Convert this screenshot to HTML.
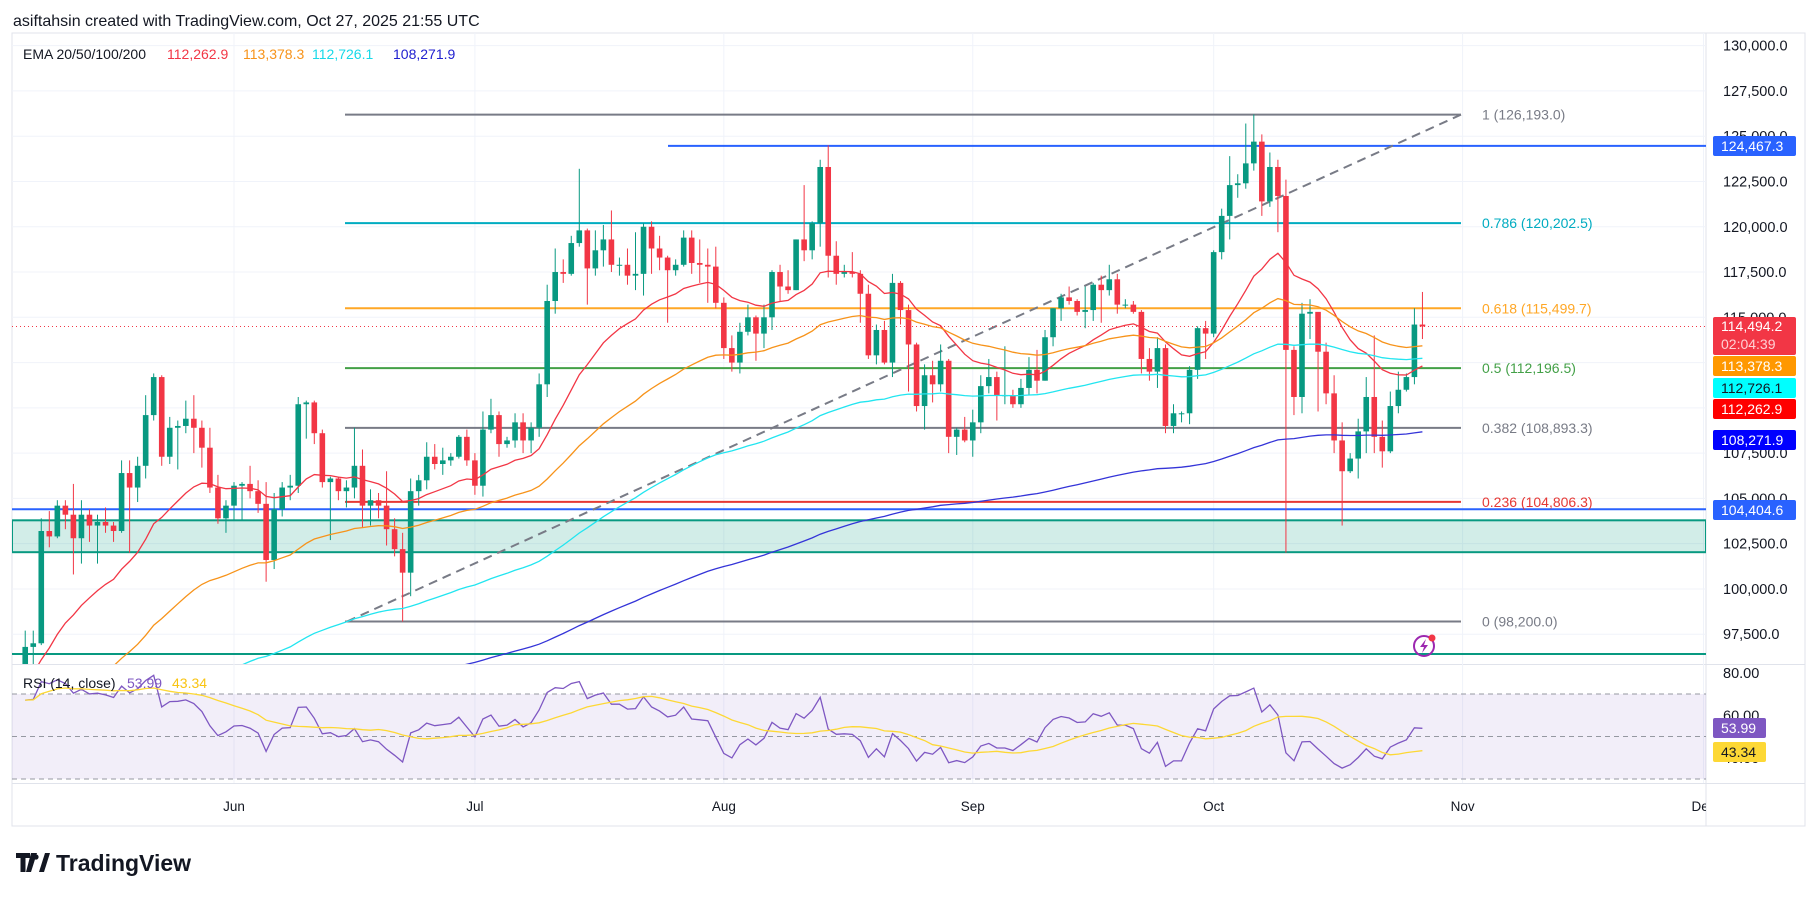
<!DOCTYPE html>
<html><head><meta charset="utf-8">
<style>
body{margin:0;background:#fff;width:1815px;height:901px;overflow:hidden;font-family:"Liberation Sans",sans-serif;}
svg text{font-family:"Liberation Sans",sans-serif;}
</style></head>
<body>
<svg id="c" width="1815" height="901" xmlns="http://www.w3.org/2000/svg">
<defs>
<clipPath id="mainClip"><rect x="12" y="33" width="1694" height="631"/></clipPath>
<clipPath id="rsiClip"><rect x="12" y="665" width="1694" height="118"/></clipPath>
<clipPath id="timeClip"><rect x="12" y="784" width="1694" height="42"/></clipPath>
</defs>
<text x="13" y="26" font-size="16" fill="#131722">asiftahsin created with TradingView.com, Oct 27, 2025 21:55 UTC</text>
<rect x="12" y="33" width="1793" height="793" fill="none" stroke="#e0e3eb"/>
<line x1="1706" y1="33" x2="1706" y2="826" stroke="#e0e3eb"/>
<line x1="12" y1="664.5" x2="1805" y2="664.5" stroke="#e0e3eb"/>
<line x1="12" y1="783.5" x2="1805" y2="783.5" stroke="#e0e3eb"/>
<g id="grid"></g>
<g id="draw" clip-path="url(#mainClip)"></g>
<g id="candles" clip-path="url(#mainClip)"></g>
<g id="emas" clip-path="url(#mainClip)"></g>
<g id="rsi" clip-path="url(#rsiClip)"></g>
<g id="axis"></g>
<g id="time" clip-path="url(#timeClip)"></g>
<g id="legend">
<text x="23" y="59" font-size="14" fill="#131722">EMA 20/50/100/200</text>
<text x="167" y="59" font-size="14" fill="#f23645">112,262.9</text>
<text x="243" y="59" font-size="14" fill="#f7931a">113,378.3</text>
<text x="312" y="59" font-size="14" fill="#18d9e8">112,726.1</text>
<text x="393" y="59" font-size="14" fill="#2020d0">108,271.9</text>
<text x="23" y="688" font-size="14" fill="#131722">RSI (14, close)</text>
<text x="127" y="688" font-size="14" fill="#7e57c2">53.99</text>
<text x="172" y="688" font-size="14" fill="#f9c412">43.34</text>
</g>
<g>
<path d="M16 853h14v5h-4.5v14h-5v-14H16z M31 853h6l-6 19h-5z" fill="#131722"/>
<circle cx="36" cy="857" r="2.6" fill="#131722"/>
<path d="M39 872l6-19h5l-6 19z" fill="#131722"/>
<text x="56" y="871" font-size="23" font-weight="bold" fill="#131722">TradingView</text>
</g>
<g>
<circle cx="1424" cy="646" r="10" fill="none" stroke="#9c27b0" stroke-width="2"/>
<path d="M1426 639l-6 8h4l-2 6 6-8h-4z" fill="#9c27b0"/>
<circle cx="1432" cy="638" r="3.5" fill="#f23645"/>
</g>
</svg>
<script>
// ---- data ----
const startDayOffset = -26; // first candle = May 6 (Jun 1 = day 0)
const firstOpen = 94700;
const closes = [96.8,97.0,103.2,102.9,104.6,104.1,102.8,104.1,103.5,103.7,103.5,103.2,106.4,105.6,106.8,109.6,111.7,107.3,108.9,109.0,109.4,108.9,107.8,105.6,103.9,104.6,
105.7,105.8,105.4,104.7,101.6,104.4,105.6,105.7,110.2,110.3,108.6,105.9,106.1,105.4,105.6,106.8,104.6,104.9,104.6,103.3,102.2,100.9,105.4,106.0,107.3,106.9,107.1,107.3,108.4,107.1,
105.7,108.8,109.6,108.0,108.2,109.2,108.2,108.9,111.3,115.9,117.5,117.4,119.1,119.8,117.7,118.7,119.3,117.9,117.9,117.3,117.4,120.0,118.8,118.3,117.6,117.9,119.4,118.0,117.9,117.8,115.8,
113.3,112.5,114.2,115.0,114.1,115.0,117.5,116.7,116.5,119.3,118.7,120.2,123.3,118.4,117.4,117.5,117.4,116.3,112.9,114.3,112.5,116.9,115.4,113.5,110.1,111.8,111.3,112.6,108.4,108.8,108.2,
109.2,111.2,111.7,110.7,110.7,110.2,111.1,112.1,111.5,113.9,115.5,116.1,115.9,115.3,115.4,116.8,116.5,117.1,115.7,115.7,115.3,112.7,112.0,113.3,109.0,109.7,109.7,112.1,114.4,114.1,
118.6,120.6,122.3,122.4,123.5,124.7,121.4,123.3,121.7,113.2,110.6,115.2,115.3,113.1,110.8,108.2,106.5,107.2,108.7,110.6,108.4,107.6,110.1,111.0,111.7,114.6,114.494];
const highs = [97.7,97.7,103.9,104.3,104.9,104.9,105.8,104.9,104.4,104.1,104.5,103.7,107.1,107.1,107.3,110.7,111.9,111.8,109.5,109.3,110.4,110.7,109.3,108.9,106.3,104.9,
105.9,105.9,106.8,106.0,105.9,105.3,105.9,106.3,110.6,110.4,110.4,108.8,106.2,106.2,106.0,108.9,107.7,105.5,105.3,106.5,103.9,103.1,106.1,106.3,108.1,108.0,107.8,107.5,108.5,108.8,
107.5,109.8,110.5,109.8,108.4,109.7,109.7,109.2,111.9,116.8,118.8,118.2,119.5,123.2,119.9,119.8,120.1,120.9,118.3,118.8,119.7,120.2,120.3,119.5,118.4,118.2,119.8,119.8,119.3,118.8,118.9,
116.1,114.0,114.7,115.7,115.1,115.7,117.6,117.9,117.6,119.3,122.3,120.3,123.7,124.5,119.2,117.9,118.6,117.6,116.8,114.6,114.8,117.4,117.0,115.7,113.6,112.4,112.6,113.5,112.7,108.9,109.5,
109.9,111.8,112.7,112.0,113.4,111.0,111.6,112.8,113.2,114.3,115.5,116.3,116.7,116.0,116.7,116.9,117.3,117.9,117.4,116.0,115.9,115.4,113.3,113.9,113.5,110.2,109.8,112.3,114.5,114.8,
118.7,121.0,123.9,122.9,125.7,126.2,125.1,124.1,123.7,122.6,113.4,115.8,116.0,115.0,113.6,111.8,109.2,107.5,109.4,111.7,114.0,109.3,110.9,112.0,111.9,115.5,116.4];
const lows = [94.1,95.8,96.9,102.3,102.8,103.3,100.8,101.4,102.6,101.4,103.1,102.6,103.1,102.0,104.8,106.1,109.3,106.8,106.9,106.6,108.6,107.5,106.7,105.3,103.6,103.1,
103.8,103.8,105.0,104.2,100.4,101.1,104.0,104.9,105.3,108.3,108.0,105.6,102.7,104.9,104.5,105.0,103.4,103.5,103.9,102.4,101.8,98.2,99.6,104.6,105.5,106.6,106.3,106.8,107.2,106.8,
105.2,105.1,108.6,107.3,107.8,107.8,107.5,107.5,108.4,110.6,115.2,116.9,117.3,118.9,115.7,117.3,117.8,117.5,117.3,116.8,116.5,116.2,117.4,117.6,114.7,117.3,117.8,117.4,116.9,115.8,115.5,
112.7,112.0,111.9,114.0,112.6,113.3,114.3,115.9,116.3,116.5,118.1,118.2,118.9,117.2,116.8,117.2,117.2,114.7,112.7,112.4,112.4,111.7,114.6,110.9,109.8,108.8,110.3,110.9,107.5,107.4,108.1,
107.3,108.6,110.8,109.3,110.2,110.0,110.0,110.7,110.8,111.5,113.4,114.8,115.7,115.1,114.4,114.8,114.7,116.2,115.2,115.5,115.2,111.9,111.5,111.1,108.6,108.6,109.2,109.1,111.6,112.7,
113.9,118.2,119.3,121.6,122.1,123.1,120.6,121.1,119.7,102.0,109.6,109.7,113.8,109.8,110.2,107.5,103.5,106.4,106.1,107.5,107.5,106.7,107.5,109.7,110.9,111.3,113.8];
const emaPeriods = [20, 50, 100, 200];
const emaSeeds = [95000, 91500, 88500, 88500];
const rsiSeedGain = 900, rsiSeedLoss = 520;
const priceTicks = [130000,127500,125000,122500,120000,117500,115000,112500,110000,107500,105000,102500,100000,97500];
const monthLabels = ["Jun","Jul","Aug","Sep","Oct","Nov","Dec"];
const monthDays = [0,30,61,92,122,153,183];
const fibLevels = ["1","0.786","0.618","0.5","0.382","0.236","0"];
const fibPrices = [126193.0,120202.5,115499.7,112196.5,108893.3,104806.3,98200.0];
const fibColors = ["#787b86","#00acc1","#ffa726","#43a047","#787b86","#e53935","#787b86"];
const rsiTicks = [80,60,40];

// ---- scales ----
const NS="http://www.w3.org/2000/svg";
function y(p){return 114.6+(126193-p)*0.01811;}
function xd(d){return 234+8.03*d;}
function xi(i){return xd(i+startDayOffset);}
function yr(v){return 694+(70-v)*2.125;}
function mk(tag,attrs,parent){const e=document.createElementNS(NS,tag);for(const k in attrs)e.setAttribute(k,attrs[k]);parent.appendChild(e);return e;}
function fmt(p,dec){return p.toLocaleString("en-US",{minimumFractionDigits:dec,maximumFractionDigits:dec});}
const C=closes.map(v=>v>1000?v:v*1000), H=highs.map(v=>v*1000), L=lows.map(v=>v*1000);

// grid
const grid=document.getElementById("grid");
priceTicks.forEach(p=>{const l=mk("line",{x1:12,x2:1706,y1:y(p),y2:y(p),stroke:"#f0f3fa"},grid);

});
monthDays.forEach(d=>{if(xd(d)<1706){const l=mk("line",{x1:xd(d),x2:xd(d),y1:33,y2:783,stroke:"#f0f3fa"},grid);

}});

// drawings
const dr=document.getElementById("draw");
const zone=mk("rect",{x:12,y:y(103790),width:1694,height:y(102030)-y(103790),fill:"rgba(8,153,129,0.18)",stroke:"#089981","stroke-width":2},dr);


let l1=mk("line",{x1:12,x2:1706,y1:y(104404.6),y2:y(104404.6),stroke:"#2962ff","stroke-width":2},dr);


let l2=mk("line",{x1:668,x2:1706,y1:y(124467.3),y2:y(124467.3),stroke:"#2962ff","stroke-width":2},dr);


let l3=mk("line",{x1:12,x2:1706,y1:y(96410),y2:y(96410),stroke:"#089981","stroke-width":2},dr);


fibPrices.forEach((p,k)=>{const l=mk("line",{x1:345,x2:1461,y1:y(p),y2:y(p),stroke:fibColors[k],"stroke-width":2},dr);


const t=mk("text",{x:1482,y:y(p)+5,"font-size":14,fill:fibColors[k]},dr);t.textContent=fibLevels[k]+" ("+fmt(p,1)+")";

});
const tl=mk("line",{x1:347,y1:y(98200),x2:1461,y2:y(126193),stroke:"#787b86","stroke-width":2,"stroke-dasharray":"9 6"},dr);


const cp=mk("line",{x1:12,x2:1706,y1:y(114494.2),y2:y(114494.2),stroke:"#f23645","stroke-dasharray":"1 3"},dr);



// candles
const cg=document.getElementById("candles");
C.forEach((c,i)=>{const o=i?C[i-1]:firstOpen;const up=c>=o;const col=up?"#089981":"#f23645";const x=xi(i);
const w=mk("line",{x1:x,x2:x,y1:y(H[i]),y2:y(L[i]),stroke:col,"stroke-width":1},cg);


const t=Math.min(y(o),y(c)),h=Math.max(1,Math.abs(y(o)-y(c)));
const b=mk("rect",{x:x-2.8,y:t,width:5.6,height:h,fill:col},cg);

});

// EMAs
const eg=document.getElementById("emas");
const emaCols=["#f23645","#f7931a","#22e5f0","#3434d8"];
emaPeriods.forEach((n,k)=>{let e=emaSeeds[k];const a=2/(n+1);let pts=[];
C.forEach((c,i)=>{e=e+a*(c-e);pts.push(xi(i).toFixed(1)+","+y(e).toFixed(1));});
const pl=mk("polyline",{points:pts.join(" "),fill:"none",stroke:emaCols[k],"stroke-width":1.3},eg);

});

// RSI
const rg=document.getElementById("rsi");
const band=mk("rect",{x:12,y:yr(70),width:1694,height:yr(30)-yr(70),fill:"rgba(126,87,194,0.1)"},rg);


[70,50,30].forEach(v=>{const l=mk("line",{x1:12,x2:1706,y1:yr(v),y2:yr(v),stroke:"#9598a1","stroke-dasharray":"5 4"},rg);

});
let ag=rsiSeedGain,al=rsiSeedLoss;const rsi=[];
C.forEach((c,i)=>{const o=i?C[i-1]:firstOpen;const ch=c-o;ag=(ag*13+Math.max(ch,0))/14;al=(al*13+Math.max(-ch,0))/14;rsi.push(100-100/(1+ag/al));});
const ma=rsi.map((v,i)=>{const s=rsi.slice(Math.max(0,i-13),i+1);return s.reduce((a,b)=>a+b,0)/s.length;});
const rl=mk("polyline",{points:rsi.map((v,i)=>xi(i).toFixed(1)+","+yr(v).toFixed(1)).join(" "),fill:"none",stroke:"#7e57c2","stroke-width":1.3},rg);


const ml=mk("polyline",{points:ma.map((v,i)=>xi(i).toFixed(1)+","+yr(v).toFixed(1)).join(" "),fill:"none",stroke:"#fdd835","stroke-width":1.3},rg);



// axis labels
const ax=document.getElementById("axis");
priceTicks.forEach(p=>{const t=mk("text",{x:1723,y:y(p)+5,"font-size":14.5,fill:"#131722"},ax);t.textContent=fmt(p,1);

});
rsiTicks.forEach(v=>{const t=mk("text",{x:1723,y:yr(v)+5,"font-size":14.5,fill:"#131722"},ax);t.textContent=v.toFixed(2);

});
function box(cy,h,w,bg,fg,txt,name){const b=mk("rect",{x:1713,y:cy-h/2,width:w,height:h,fill:bg,rx:2},ax);


const t=mk("text",{x:1721,y:cy+5,"font-size":14,fill:fg},ax);t.textContent=txt;}
box(146,20,83,"#2962ff","#fff","124,467.3","resistance-price-badge");
box(336,38,83,"#f23645","#fff","","current-price-badge");
let t1=mk("text",{x:1721,y:331,"font-size":14,fill:"#fff"},ax);t1.textContent="114,494.2";
let t2=mk("text",{x:1721,y:349,"font-size":14,fill:"#ffd0d4"},ax);t2.textContent="02:04:39";
box(366,20,83,"#ff9800","#fff","113,378.3","ema50-badge");
box(388,20,83,"#00ffff","#131722","112,726.1","ema100-badge");
box(409,20,83,"#ff0000","#fff","112,262.9","ema20-badge");
box(440,20,83,"#0000ff","#fff","108,271.9","ema200-badge");
box(510,20,83,"#2962ff","#fff","104,404.6","support-price-badge");
box(728,20,53,"#7e57c2","#fff","53.99","rsi-value-badge");
box(752,20,53,"#fdd835","#131722","43.34","rsi-ma-badge");

// time labels
const tg=document.getElementById("time");
monthLabels.forEach((m,k)=>{const t=mk("text",{x:xd(monthDays[k]),y:811,"font-size":13.5,fill:"#131722","text-anchor":"middle"},tg);t.textContent=m;

});
</script>
</body></html>
